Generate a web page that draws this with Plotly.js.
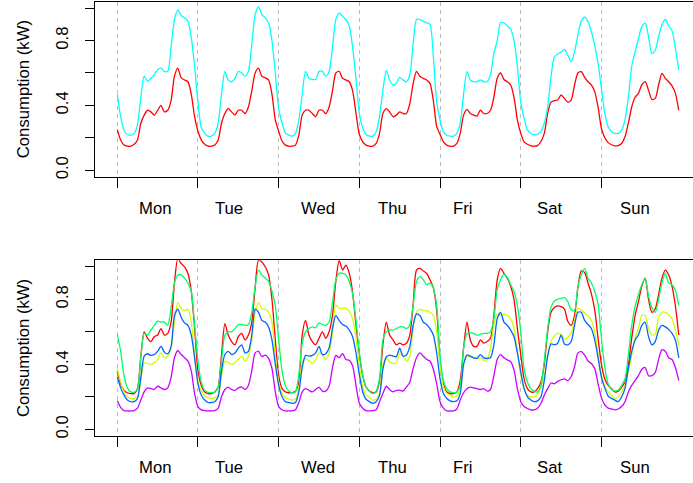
<!DOCTYPE html>
<html>
<head>
<meta charset="utf-8">
<script src="https://cdn.plot.ly/plotly-3.0.1.min.js"></script>
<style>
html,body{margin:0;padding:0;overflow:hidden;background:#fff;}
#chart{width:710px;height:483px;}
</style>
</head>
<body>
<div id="chart"></div>
<script>
// Day labels (week starts Monday 00:00, hourly values)
const dayLabels = ['Mon', 'Tue', 'Wed', 'Thu', 'Fri', 'Sat', 'Sun'];
const dayLabelHour = [11.1, 33.2, 59.7, 81.9, 102.7, 128.6, 154.1];
const yTickVals = [0, 0.2, 0.4, 0.6, 0.8, 1.0];
const yTickText = ['0.0', '', '0.4', '', '0.8', ''];

// ---- Top panel ----
const topRed = [
  0.25, 0.186, 0.155, 0.148, 0.148, 0.16, 0.186, 0.29, 0.34, 0.37, 0.36, 0.34, 0.37, 0.40, 0.36, 0.37, 0.43, 0.58, 0.63, 0.57, 0.557, 0.546, 0.47, 0.33,
  0.24, 0.186, 0.16, 0.148, 0.148, 0.155, 0.186, 0.29, 0.35, 0.38, 0.36, 0.34, 0.37, 0.37, 0.35, 0.39, 0.49, 0.60, 0.63, 0.58, 0.57, 0.557, 0.47, 0.31,
  0.24, 0.18, 0.155, 0.148, 0.148, 0.155, 0.216, 0.34, 0.37, 0.37, 0.35, 0.33, 0.37, 0.37, 0.35, 0.39, 0.49, 0.60, 0.61, 0.567, 0.557, 0.546, 0.49, 0.35,
  0.22, 0.175, 0.155, 0.148, 0.148, 0.165, 0.227, 0.35, 0.38, 0.36, 0.33, 0.34, 0.36, 0.35, 0.35, 0.41, 0.536, 0.61, 0.58, 0.567, 0.557, 0.536, 0.43, 0.27,
  0.22, 0.175, 0.155, 0.148, 0.148, 0.165, 0.227, 0.34, 0.375, 0.35, 0.34, 0.334, 0.37, 0.35, 0.35, 0.37, 0.45, 0.567, 0.60, 0.56, 0.546, 0.526, 0.45, 0.31,
  0.227, 0.175, 0.16, 0.15, 0.148, 0.152, 0.177, 0.227, 0.35, 0.42, 0.43, 0.433, 0.464, 0.443, 0.42, 0.433, 0.526, 0.60, 0.608, 0.573, 0.546, 0.526, 0.485, 0.39,
  0.258, 0.20, 0.17, 0.157, 0.15, 0.152, 0.165, 0.206, 0.29, 0.39, 0.45, 0.474, 0.526, 0.546, 0.495, 0.437, 0.443, 0.526, 0.598, 0.567, 0.546, 0.52, 0.474, 0.37
];
const topCyan = [
  0.468, 0.33, 0.247, 0.22, 0.216, 0.227, 0.28, 0.45, 0.58, 0.55, 0.567, 0.59, 0.62, 0.63, 0.61, 0.61, 0.76, 0.93, 0.99, 0.955, 0.94, 0.92, 0.82, 0.64,
  0.42, 0.26, 0.227, 0.21, 0.21, 0.227, 0.29, 0.47, 0.61, 0.557, 0.546, 0.567, 0.61, 0.60, 0.58, 0.61, 0.78, 0.96, 1.01, 0.96, 0.94, 0.91, 0.80, 0.60,
  0.38, 0.29, 0.23, 0.216, 0.21, 0.227, 0.31, 0.47, 0.61, 0.567, 0.56, 0.56, 0.61, 0.61, 0.58, 0.61, 0.76, 0.93, 0.97, 0.95, 0.93, 0.89, 0.76, 0.56,
  0.35, 0.26, 0.22, 0.21, 0.21, 0.237, 0.33, 0.495, 0.614, 0.557, 0.526, 0.536, 0.573, 0.557, 0.546, 0.59, 0.78, 0.93, 0.93, 0.92, 0.91, 0.90, 0.70, 0.42,
  0.31, 0.237, 0.216, 0.21, 0.21, 0.227, 0.29, 0.47, 0.608, 0.557, 0.546, 0.546, 0.557, 0.546, 0.546, 0.59, 0.72, 0.80, 0.91, 0.91, 0.89, 0.87, 0.80, 0.64,
  0.42, 0.32, 0.247, 0.227, 0.218, 0.222, 0.24, 0.29, 0.39, 0.577, 0.70, 0.717, 0.73, 0.746, 0.71, 0.67, 0.73, 0.835, 0.92, 0.944, 0.917, 0.855, 0.77, 0.66,
  0.505, 0.35, 0.268, 0.237, 0.227, 0.227, 0.247, 0.31, 0.45, 0.64, 0.73, 0.81, 0.886, 0.907, 0.825, 0.72, 0.74, 0.825, 0.897, 0.93, 0.89, 0.86, 0.75, 0.62
];

// ---- Bottom panel ----
const botRed = [
  0.36, 0.28, 0.24, 0.225, 0.22, 0.22, 0.25, 0.45, 0.60, 0.56, 0.54, 0.57, 0.58, 0.62, 0.58, 0.59, 0.66, 0.90, 1.05, 1.02, 1.00, 0.96, 0.85, 0.62,
  0.36, 0.27, 0.23, 0.22, 0.22, 0.23, 0.26, 0.46, 0.65, 0.58, 0.54, 0.52, 0.57, 0.59, 0.55, 0.58, 0.66, 0.87, 1.04, 1.03, 1.00, 0.95, 0.80, 0.55,
  0.33, 0.25, 0.23, 0.225, 0.225, 0.235, 0.29, 0.58, 0.67, 0.58, 0.54, 0.52, 0.56, 0.60, 0.56, 0.60, 0.70, 0.91, 1.04, 0.98, 1.01, 0.96, 0.84, 0.64,
  0.46, 0.33, 0.26, 0.235, 0.225, 0.23, 0.30, 0.52, 0.66, 0.58, 0.55, 0.52, 0.53, 0.52, 0.53, 0.58, 0.77, 0.98, 0.99, 0.975, 0.96, 0.92, 0.87, 0.73,
  0.42, 0.28, 0.23, 0.22, 0.22, 0.23, 0.30, 0.50, 0.66, 0.55, 0.51, 0.51, 0.55, 0.53, 0.54, 0.56, 0.70, 0.92, 0.99, 0.96, 0.93, 0.88, 0.80, 0.62,
  0.46, 0.31, 0.25, 0.23, 0.23, 0.25, 0.29, 0.40, 0.60, 0.72, 0.75, 0.76, 0.755, 0.74, 0.665, 0.64, 0.70, 0.87, 0.975, 0.965, 0.90, 0.835, 0.735, 0.56,
  0.40, 0.31, 0.27, 0.25, 0.23, 0.235, 0.26, 0.29, 0.395, 0.56, 0.70, 0.785, 0.88, 0.93, 0.80, 0.72, 0.74, 0.83, 0.93, 0.98, 0.95, 0.88, 0.76, 0.58
];
const botYellow = [
  0.375, 0.29, 0.23, 0.20, 0.19, 0.19, 0.20, 0.30, 0.41, 0.405, 0.40, 0.41, 0.43, 0.47, 0.44, 0.45, 0.50, 0.66, 0.78, 0.745, 0.73, 0.74, 0.66, 0.45,
  0.29, 0.24, 0.205, 0.195, 0.19, 0.195, 0.21, 0.33, 0.42, 0.41, 0.40, 0.41, 0.43, 0.45, 0.42, 0.45, 0.55, 0.72, 0.78, 0.74, 0.74, 0.72, 0.66, 0.45,
  0.29, 0.22, 0.195, 0.185, 0.18, 0.185, 0.25, 0.41, 0.435, 0.42, 0.405, 0.43, 0.47, 0.46, 0.43, 0.47, 0.59, 0.765, 0.745, 0.745, 0.745, 0.725, 0.68, 0.56,
  0.395, 0.26, 0.21, 0.195, 0.18, 0.185, 0.22, 0.40, 0.435, 0.415, 0.405, 0.41, 0.47, 0.45, 0.42, 0.45, 0.63, 0.72, 0.74, 0.73, 0.73, 0.72, 0.70, 0.60,
  0.40, 0.26, 0.22, 0.21, 0.20, 0.205, 0.26, 0.40, 0.45, 0.445, 0.44, 0.437, 0.44, 0.425, 0.43, 0.50, 0.64, 0.71, 0.70, 0.71, 0.70, 0.68, 0.62, 0.48,
  0.33, 0.25, 0.21, 0.20, 0.20, 0.215, 0.26, 0.33, 0.45, 0.54, 0.575, 0.59, 0.585, 0.555, 0.565, 0.595, 0.67, 0.745, 0.735, 0.715, 0.70, 0.67, 0.60, 0.46,
  0.33, 0.265, 0.23, 0.21, 0.19, 0.20, 0.23, 0.27, 0.355, 0.457, 0.56, 0.62, 0.70, 0.70, 0.62, 0.58, 0.585, 0.69, 0.72, 0.72, 0.705, 0.68, 0.61, 0.52
];
const botGreen = [
  0.585, 0.48, 0.33, 0.255, 0.23, 0.228, 0.25, 0.44, 0.59, 0.58, 0.61, 0.64, 0.665, 0.66, 0.66, 0.64, 0.745, 0.90, 0.95, 0.95, 0.93, 0.90, 0.85, 0.64,
  0.42, 0.29, 0.24, 0.228, 0.225, 0.23, 0.26, 0.42, 0.58, 0.60, 0.60, 0.62, 0.645, 0.645, 0.64, 0.645, 0.72, 0.88, 0.98, 0.95, 0.93, 0.91, 0.85, 0.76,
  0.55, 0.36, 0.27, 0.235, 0.225, 0.23, 0.34, 0.53, 0.60, 0.62, 0.63, 0.625, 0.655, 0.645, 0.64, 0.66, 0.78, 0.92, 0.96, 0.96, 0.95, 0.91, 0.83, 0.67,
  0.47, 0.33, 0.26, 0.235, 0.22, 0.235, 0.31, 0.55, 0.60, 0.61, 0.61, 0.62, 0.63, 0.63, 0.62, 0.64, 0.765, 0.91, 0.94, 0.92, 0.89, 0.90, 0.87, 0.76,
  0.45, 0.30, 0.25, 0.23, 0.225, 0.23, 0.27, 0.50, 0.59, 0.595, 0.59, 0.58, 0.585, 0.59, 0.59, 0.60, 0.68, 0.86, 0.92, 0.955, 0.935, 0.89, 0.85, 0.76,
  0.60, 0.37, 0.29, 0.25, 0.235, 0.23, 0.27, 0.42, 0.62, 0.75, 0.79, 0.80, 0.805, 0.81, 0.785, 0.735, 0.73, 0.88, 0.95, 0.99, 0.93, 0.90, 0.85, 0.77,
  0.56, 0.38, 0.28, 0.245, 0.237, 0.24, 0.27, 0.31, 0.457, 0.64, 0.755, 0.83, 0.89, 0.93, 0.82, 0.75, 0.72, 0.80, 0.90, 0.96, 0.90, 0.89, 0.855, 0.76
];
const botBlue = [
  0.324, 0.255, 0.21, 0.18, 0.17, 0.17, 0.19, 0.32, 0.45, 0.465, 0.455, 0.46, 0.48, 0.51, 0.475, 0.465, 0.51, 0.70, 0.74, 0.69, 0.655, 0.64, 0.58, 0.44,
  0.28, 0.21, 0.18, 0.165, 0.165, 0.17, 0.20, 0.36, 0.46, 0.48, 0.46, 0.47, 0.50, 0.52, 0.47, 0.48, 0.58, 0.74, 0.72, 0.67, 0.66, 0.63, 0.55, 0.40,
  0.27, 0.20, 0.17, 0.165, 0.16, 0.165, 0.23, 0.38, 0.455, 0.45, 0.455, 0.47, 0.51, 0.46, 0.465, 0.50, 0.62, 0.70, 0.67, 0.645, 0.635, 0.61, 0.57, 0.47,
  0.335, 0.23, 0.185, 0.17, 0.16, 0.17, 0.21, 0.37, 0.445, 0.457, 0.45, 0.447, 0.50, 0.45, 0.457, 0.51, 0.64, 0.71, 0.70, 0.66, 0.645, 0.62, 0.58, 0.47,
  0.31, 0.22, 0.19, 0.175, 0.17, 0.175, 0.22, 0.40, 0.457, 0.45, 0.44, 0.437, 0.46, 0.44, 0.437, 0.44, 0.52, 0.68, 0.72, 0.66, 0.64, 0.61, 0.57, 0.47,
  0.355, 0.25, 0.20, 0.18, 0.17, 0.175, 0.20, 0.30, 0.45, 0.525, 0.52, 0.53, 0.58, 0.525, 0.52, 0.54, 0.64, 0.72, 0.72, 0.67, 0.645, 0.62, 0.55, 0.44,
  0.32, 0.255, 0.205, 0.19, 0.18, 0.17, 0.20, 0.25, 0.375, 0.478, 0.55, 0.58, 0.64, 0.66, 0.57, 0.52, 0.54, 0.61, 0.64, 0.63, 0.615, 0.59, 0.55, 0.44
];
const botMagenta = [
  0.176, 0.135, 0.115, 0.113, 0.113, 0.115, 0.13, 0.18, 0.23, 0.255, 0.25, 0.245, 0.265, 0.255, 0.245, 0.255, 0.32, 0.44, 0.485, 0.46, 0.44, 0.42, 0.36, 0.22,
  0.14, 0.12, 0.115, 0.113, 0.113, 0.115, 0.13, 0.20, 0.245, 0.26, 0.245, 0.24, 0.255, 0.26, 0.245, 0.27, 0.36, 0.47, 0.48, 0.447, 0.457, 0.437, 0.375, 0.23,
  0.14, 0.12, 0.113, 0.113, 0.113, 0.12, 0.165, 0.23, 0.25, 0.24, 0.23, 0.245, 0.26, 0.235, 0.235, 0.265, 0.38, 0.455, 0.44, 0.465, 0.43, 0.425, 0.39, 0.27,
  0.16, 0.13, 0.115, 0.113, 0.115, 0.12, 0.17, 0.22, 0.265, 0.245, 0.23, 0.24, 0.24, 0.235, 0.26, 0.29, 0.375, 0.44, 0.47, 0.45, 0.43, 0.42, 0.37, 0.28,
  0.17, 0.13, 0.113, 0.113, 0.113, 0.125, 0.18, 0.225, 0.25, 0.26, 0.255, 0.25, 0.245, 0.25, 0.235, 0.245, 0.33, 0.43, 0.46, 0.44, 0.427, 0.416, 0.365, 0.25,
  0.17, 0.14, 0.128, 0.12, 0.12, 0.13, 0.16, 0.21, 0.25, 0.285, 0.28, 0.295, 0.305, 0.31, 0.30, 0.325, 0.385, 0.47, 0.478, 0.457, 0.42, 0.405, 0.375, 0.28,
  0.195, 0.15, 0.13, 0.125, 0.12, 0.125, 0.14, 0.17, 0.23, 0.27, 0.30, 0.33, 0.37, 0.38, 0.33, 0.33, 0.35, 0.43, 0.49, 0.48, 0.44, 0.43, 0.38, 0.30
];

const hourIndex = topRed.map((_, i) => i);
const dayStarts = dayLabels.map((_, d) => d * 24);

function line(y, color, xa, ya) {
  return {x: hourIndex, y: y, type: 'scatter', mode: 'lines', xaxis: xa, yaxis: ya,
          line: {color: color, width: 1.3, shape: 'spline', smoothing: 0.7}, hoverinfo: 'skip'};
}

const traces = [
  line(topRed, '#FF0000', 'x', 'y'),
  line(topCyan, '#00FFFF', 'x', 'y'),
  line(botRed, '#FF0000', 'x2', 'y2'),
  line(botYellow, '#CCFF00', 'x2', 'y2'),
  line(botGreen, '#00FF66', 'x2', 'y2'),
  line(botBlue, '#0066FF', 'x2', 'y2'),
  line(botMagenta, '#CC00FF', 'x2', 'y2')
];

const FONT = 'Liberation Sans, Arial, Helvetica, sans-serif';
const FS = 16.7;

function xAxis(anchor) {
  return {
    anchor: anchor, range: [-6.63, 174.8], domain: [0, 1],
    tickmode: 'array', tickvals: dayStarts, showticklabels: false,
    ticks: 'outside', ticklen: 10, tickwidth: 1, tickcolor: '#000',
    showgrid: true, gridcolor: '#BEBEBE', gridwidth: 1, griddash: '4px,4px',
    zeroline: false, showline: true, linecolor: '#000', linewidth: 1, mirror: true
  };
}
function yAxis(anchor, dom) {
  return {
    anchor: anchor, domain: dom, range: [-0.04, 1.04],
    tickmode: 'array', tickvals: yTickVals, ticktext: yTickText,
    ticks: 'outside', ticklen: 9, tickwidth: 1, tickcolor: '#000',
    tickangle: -90, ticklabelstandoff: 10,
    tickfont: {family: FONT, size: FS, color: '#000'},
    showgrid: false, zeroline: false, showline: true, linecolor: '#000', linewidth: 1, mirror: true
  };
}

const annotations = [];
dayLabels.forEach((lab, i) => {
  [0.5673, 0.0321].forEach(py => {
    annotations.push({text: lab, x: dayLabelHour[i], xref: 'x', y: py, yref: 'paper',
      xanchor: 'center', yanchor: 'middle', showarrow: false,
      font: {family: FONT, size: FS, color: '#000'}});
  });
});
[0.8153, 0.2795].forEach(py => {
  annotations.push({text: 'Consumption (kW)', x: -0.118, xref: 'paper', y: py, yref: 'paper',
    xanchor: 'center', yanchor: 'middle', textangle: -90, showarrow: false,
    font: {family: FONT, size: FS, color: '#000'}});
});

const layout = {
  width: 710, height: 483,
  margin: {l: 95, r: 5, t: 0, b: 0},
  paper_bgcolor: '#fff', plot_bgcolor: '#fff',
  showlegend: false,
  xaxis: xAxis('y'),
  yaxis: yAxis('x', [0.6342, 0.9965]),
  xaxis2: xAxis('y2'),
  yaxis2: yAxis('x2', [0.0977, 0.4611]),
  annotations: annotations
};

Plotly.newPlot('chart', traces, layout, {displayModeBar: false, staticPlot: true});
</script>
</body>
</html>
